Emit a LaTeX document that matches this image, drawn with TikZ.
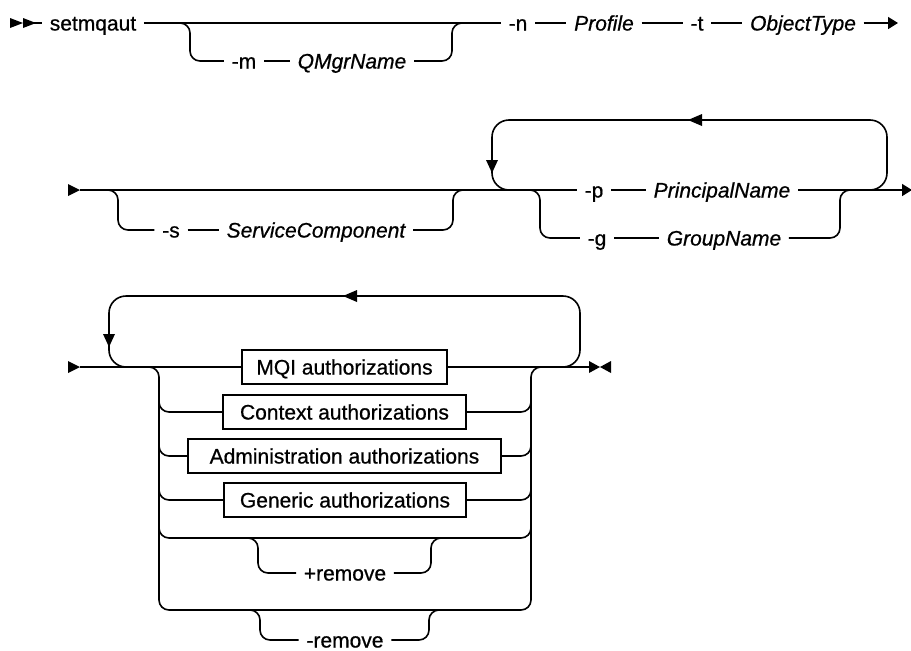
\documentclass[tikz,border=0pt]{standalone}
\usepackage{fontspec}
\setmainfont{Liberation Sans}[FakeBold=0.7]
\usetikzlibrary{arrows.meta}
\begin{document}
\begin{tikzpicture}[x=1pt,y=-1pt, line width=1.6pt,
  lbl/.style={font=\fontsize{21}{25}\selectfont, inner xsep=7pt, inner ysep=0pt, text height=15pt, text depth=0pt},
  var/.style={lbl, font=\fontsize{21}{25}\selectfont\itshape},
  box/.style={lbl, draw, line width=1.4pt, minimum height=34pt, inner xsep=0pt},
  rc/.style={rounded corners=10pt},
  lp/.style={rounded corners=17pt},
  endtip/.style={-{Triangle[length=10pt,width=12pt]}}]
\useasboundingbox (0,0) rectangle (911,651);

% ---------- row 1 ----------
\fill (10,18) -- (23,23) -- (10,28) -- cycle;
\fill (23,18) -- (36,23) -- (23,28) -- cycle;
\coordinate (s1) at (23,23);
\node[lbl] (cmd) at (93,23) {setmqaut};
\node[lbl] (m) at (244,61) {-m};
\node[var] (qm) at (352,61) {QMgrName};
\node[lbl] (n) at (518,23) {-n};
\node[var] (prof) at (604,23) {Profile};
\node[lbl] (t) at (697,23) {-t};
\node[var] (ot) at (803,23) {ObjectType};
\coordinate (e1) at (898,23);

\draw (s1) -- (cmd.west);
\draw (cmd.east) -- (n.west);
\draw[rc] (175,23) -- (190,23) |- (m.west);
\draw (m.east) -- (qm.west);
\draw[rc] (qm.east) -| (452,23) -- (465,23);
\draw (n.east) -- (prof.west);
\draw (prof.east) -- (t.west);
\draw (t.east) -- (ot.west);
\draw[endtip] (ot.east) -- (e1);

% ---------- row 2 ----------
\fill (68,184) -- (80,190) -- (68,196) -- cycle;
\coordinate (s2) at (80,190);
\node[lbl] (s) at (171,230) {-s};
\node[var] (sc) at (316,230) {ServiceComponent};
\node[lbl] (p) at (594,190) {-p};
\node[var] (pn) at (722,190) {PrincipalName};
\node[lbl] (g) at (597,238) {-g};
\node[var] (gn) at (724,238) {GroupName};
\coordinate (e2) at (912,190);

\draw (s2) -- (p.west);
\draw[rc] (105,190) -- (118,190) |- (s.west);
\draw (s.east) -- (sc.west);
\draw[rc] (sc.east) -| (453,190) -- (466,190);
\draw[lp] (860,190) -- (887,190) -- (887,120) -- (492,120) -- (492,190) -- (520,190);
\fill (688,120) -- (702,114) -- (702,126) -- cycle;
\fill (492,173) -- (486,160) -- (498,160) -- cycle;
\draw[rc] (525,190) -- (540,190) |- (g.west);
\draw (g.east) -- (gn.west);
\draw[rc] (gn.east) -| (840,190) -- (852,190);
\draw (p.east) -- (pn.west);
\draw[endtip] (pn.east) -- (e2);

% ---------- row 3 ----------
\fill (68,361) -- (80,367) -- (68,373) -- cycle;
\coordinate (s3) at (80,367);
\node[box, minimum width=205pt] (mqi) at (344.5,367) {MQI authorizations};
\node[box, minimum width=243pt] (ctx) at (344.5,412) {Context authorizations};
\node[box, minimum width=313pt] (adm) at (344.5,456) {Administration authorizations};
\node[box, minimum width=242pt] (gen) at (345,500) {Generic authorizations};
\node[lbl] (pr) at (345,573) {+remove};
\node[lbl] (mr) at (345,640) {-remove};
\coordinate (e3) at (590,367);

\draw (s3) -- (mqi.west);
\draw[lp] (545,367) -- (580,367) -- (580,296) -- (109,296) -- (109,367) -- (140,367);
\fill (109,347) -- (103,334) -- (115,334) -- cycle;
\fill (343,296) -- (357,290) -- (357,302) -- cycle;
\draw[rc] (145,367) -- (159,367) -- (159,610) -- (531,610) -- (531,367) -- (545,367);
\draw[rc] (159,395) |- (ctx.west);
\draw[rc] (ctx.east) -| (531,395);
\draw[rc] (159,440) |- (adm.west);
\draw[rc] (adm.east) -| (531,440);
\draw[rc] (159,485) |- (gen.west);
\draw[rc] (gen.east) -| (531,485);
\draw[rc] (159,520) |- (531,538) -- (531,520);
\draw[rc] (245,538) -- (258,538) |- (pr.west);
\draw[rc] (pr.east) -| (431,538) -- (445,538);
\draw[rc] (247,610) -- (260,610) |- (mr.west);
\draw[rc] (mr.east) -| (429,610) -- (443,610);
\draw (mqi.east) -- (e3);
\fill (589,361) -- (600,367) -- (589,373) -- cycle;
\fill (611,361) -- (600,367) -- (611,373) -- cycle;
\end{tikzpicture}
\end{document}
